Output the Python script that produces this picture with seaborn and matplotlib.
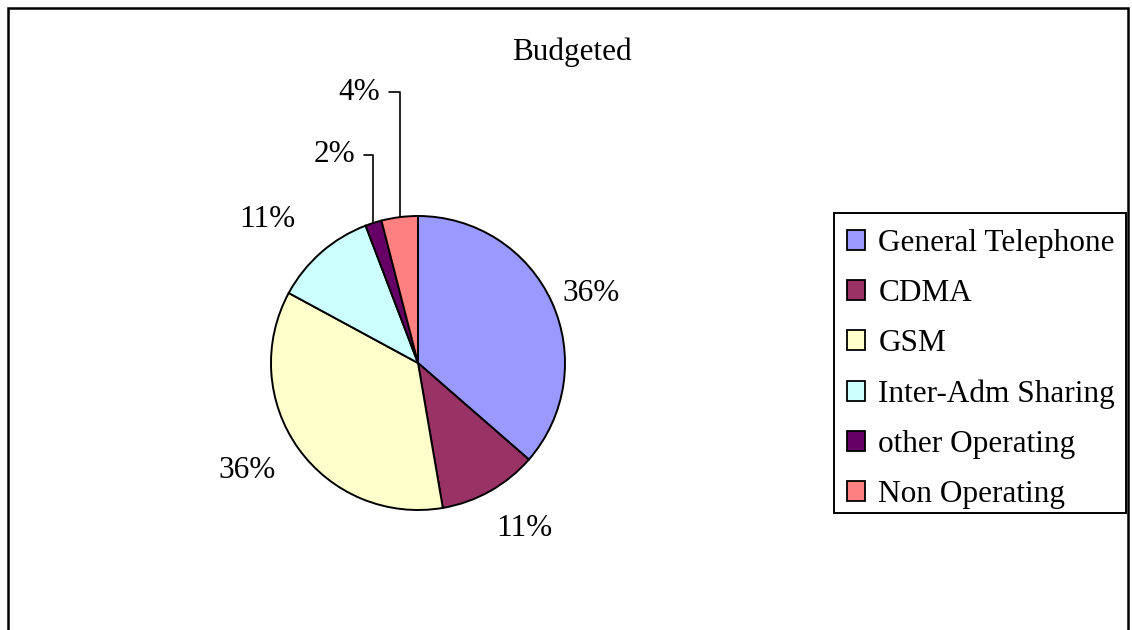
import numpy as np
import matplotlib
matplotlib.use("Agg")
import matplotlib.pyplot as plt
from matplotlib.patches import Patch, Rectangle
import seaborn as sns

# Budget shares (percent)
categories = ["General Telephone", "CDMA", "GSM", "Inter-Adm Sharing",
              "other Operating", "Non Operating"]
shares = [36.4, 10.9, 35.6, 11.3, 1.8, 4.0]
colors = ["#9999FF", "#993366", "#FFFFCC", "#CCFFFF", "#660066", "#FF8080"]
title = "Budgeted"

sns.set_theme(style="white")
plt.rcParams["font.family"] = ["Liberation Serif", "DejaVu Serif"]
plt.rcParams["text.color"] = "black"

W, H = 1132, 630
fig = plt.figure(figsize=(W / 100, H / 100), dpi=100)
fig.patch.set_facecolor("white")

# pie axes: centre at (418, 363) px, radius 147 px
cx, cy, R = 418, 363, 147
half = 330
ax = fig.add_axes([(cx - half) / W, (H - cy - half) / H, 2 * half / W, 2 * half / H])

wedges, _ = ax.pie(shares, colors=colors, startangle=90, counterclock=False,
                   radius=1.0, center=(0, 0),
                   wedgeprops=dict(edgecolor="black", linewidth=1.4))
ax.set_xlim(-half / R, half / R)
ax.set_ylim(-half / R, half / R)
ax.axis("off")

# label offsets from the wedge edge, in points
offsets = [(28, 6), (25, -27), (-37, -16), (-39, 24), (-28, 49), (-29, 90)]
leader = [False, False, False, False, True, True]
fs = 22.5
for w, v, (ox, oy), ld in zip(wedges, shares, offsets, leader):
    ang = np.deg2rad((w.theta1 + w.theta2) / 2)
    xy = (np.cos(ang), np.sin(ang))
    txt = f"{v:.0f}%"
    if ld:
        ax.annotate(txt, xy=xy, xytext=(ox, oy), textcoords="offset points",
                    ha="center", va="center", fontsize=fs, color="black",
                    arrowprops=dict(arrowstyle="-", color="black", lw=1.2,
                                    shrinkA=4, shrinkB=0,
                                    connectionstyle="angle,angleA=0,angleB=90,rad=0"))
    else:
        ax.annotate(txt, xy=xy, xytext=(ox, oy), textcoords="offset points",
                    ha="center", va="center", fontsize=fs, color="black")

fig.text(572 / W, 1 - 52 / H, title, ha="center", va="center", fontsize=fs,
         color="black")

# legend entries, with its own box drawn as a plain rectangle
handles = [Patch(facecolor=c, edgecolor="black", linewidth=1.3) for c in colors]
leg = fig.legend(handles, categories, loc="upper left",
                 bbox_to_anchor=(831 / W, 1 - 213 / H), borderaxespad=0,
                 prop={"size": fs}, frameon=False,
                 handlelength=0.6, handleheight=0.6,
                 handletextpad=0.42, labelspacing=0.68, borderpad=0.5)
for t in leg.get_texts():
    t.set_color("black")
fig.patches.append(Rectangle((834 / W, 1 - 513 / H), (1126 - 834) / W, 300 / H,
                             transform=fig.transFigure, fill=False,
                             edgecolor="black", linewidth=1.4))

# outer chart border (bottom edge lies below the image)
fig.patches.append(Rectangle((7.5 / W, -0.05), (1128 - 7.5) / W, 1.05 - 7.5 / H,
                             transform=fig.transFigure, fill=False,
                             edgecolor="black", linewidth=1.8))

fig.savefig("out.png", dpi=100)
